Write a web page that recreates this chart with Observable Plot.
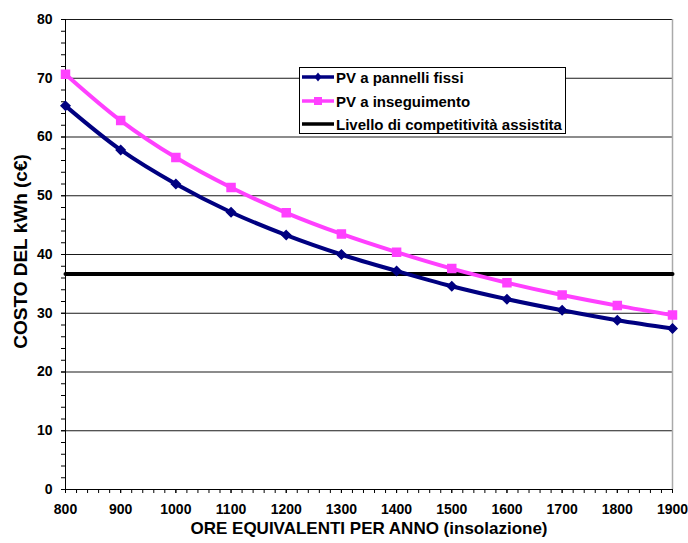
<!DOCTYPE html>
<html>
<head>
<meta charset="utf-8">
<script src="https://cdn.jsdelivr.net/npm/d3@7"></script>
<script src="https://cdn.jsdelivr.net/npm/@observablehq/plot@0.6"></script>
<style>
  html, body { margin: 0; padding: 0; background: #fff; }
  #wrap { position: relative; width: 688px; height: 543px; font-family: "Liberation Sans", Arial, sans-serif; }
  #legend { position: absolute; left: 299px; top: 67px; width: 267px; height: 67px; background: #fff; border: 1px solid #000; box-sizing: border-box; }
  .item { position: absolute; left: 2px; height: 18px; display: flex; align-items: center; font-weight: bold; font-size: 15px; color: #000; white-space: nowrap; }
  .item svg { margin-right: 2px; }
</style>
</head>
<body>
<div id="wrap"></div>
<script>
const hours = [800, 900, 1000, 1100, 1200, 1300, 1400, 1500, 1600, 1700, 1800, 1900];
const fixedPV = [65.3, 57.8, 52.0, 47.2, 43.3, 40.0, 37.2, 34.6, 32.4, 30.5, 28.8, 27.4];
const trackingPV = [70.7, 62.8, 56.5, 51.4, 47.1, 43.5, 40.4, 37.6, 35.2, 33.1, 31.3, 29.7];
const competitiveness = [36.7, 36.7, 36.7, 36.7, 36.7, 36.7, 36.7, 36.7, 36.7, 36.7, 36.7, 36.7];
const seriesNames = ["PV a pannelli fissi", "PV a inseguimento", "Livello di competitività assistita"];
const seriesColors = ["#000080", "#ff40ff", "#000000"];
const xTicks = [800, 900, 1000, 1100, 1200, 1300, 1400, 1500, 1600, 1700, 1800, 1900];
const yTicks = [0, 10, 20, 30, 40, 50, 60, 70, 80];
const xTitle = "ORE EQUIVALENTI PER ANNO (insolazione)";
const yTitle = "COSTO DEL kWh (c€)";

const fixedData = hours.map((h, i) => ({x: h, y: fixedPV[i]}));
const trackData = hours.map((h, i) => ({x: h, y: trackingPV[i]}));
const levelData = hours.map((h, i) => ({x: h, y: competitiveness[i]}));
const xMinor = d3.range(800, 1901, 20);
const yMinor = d3.range(0, 81, 2);

const chart = Plot.plot({
  width: 688,
  height: 543,
  marginLeft: 65,
  marginRight: 16,
  marginTop: 19,
  marginBottom: 54,
  style: {fontFamily: "Liberation Sans, Arial, sans-serif", fontWeight: "bold", fontSize: "14px", color: "#000", background: "#fff"},
  x: {domain: [800, 1900]},
  y: {domain: [0, 80]},
  marks: [
    Plot.ruleY(yTicks.filter(d => d > 0), {stroke: "#000", strokeWidth: 1, strokeOpacity: 0.9}),
    Plot.ruleX([1900], {stroke: "#aaa", strokeWidth: 1.5}),
    Plot.axisY(yMinor, {tickSize: 4, text: null, stroke: "#000", label: null}),
    Plot.axisY(yTicks, {tickSize: 4, tickPadding: 9, stroke: "#000", label: null, fontSize: 14, fontWeight: "bold", tickFormat: d => String(d)}),
    Plot.axisX(xMinor, {tickSize: 4, text: null, stroke: "#000", label: null}),
    Plot.axisX(xTicks, {tickSize: 4, tickPadding: 11, stroke: "#000", label: null, fontSize: 14, fontWeight: "bold", tickFormat: d => String(d)}),
    Plot.ruleX([800], {stroke: "#000", strokeWidth: 1}),
    Plot.ruleY([0], {stroke: "#000", strokeWidth: 1}),
    Plot.line(levelData, {x: "x", y: "y", stroke: seriesColors[2], strokeWidth: 4}),
    Plot.line(fixedData, {x: "x", y: "y", stroke: seriesColors[0], strokeWidth: 4, curve: "catmull-rom"}),
    Plot.dot(fixedData, {x: "x", y: "y", symbol: "diamond2", r: 4, fill: seriesColors[0], stroke: seriesColors[0]}),
    Plot.line(trackData, {x: "x", y: "y", stroke: seriesColors[1], strokeWidth: 4, curve: "catmull-rom"}),
    Plot.dot(trackData, {x: "x", y: "y", symbol: "square", r: 4.5, fill: seriesColors[1], stroke: seriesColors[1]}),
    Plot.text([yTitle], {frameAnchor: "left", textAnchor: "middle", rotate: -90, dx: -45, dy: -3, fontSize: 19, fontWeight: "bold", fill: "#000"}),
    Plot.text([xTitle], {frameAnchor: "bottom", dy: 44, fontSize: 17, fontWeight: "bold", fill: "#000"})
  ]
});

const wrap = document.getElementById("wrap");
wrap.appendChild(chart);

const legend = document.createElement("div");
legend.id = "legend";
const rowsTop = [0, 24, 47];
seriesNames.forEach((name, i) => {
  const item = document.createElement("div");
  item.className = "item";
  item.style.top = (rowsTop[i]) + "px";
  let marker = "";
  if (i === 0) marker = `<path d="M16,4.5 L19.5,9 L16,13.5 L12.5,9 Z" fill="${seriesColors[0]}"/>`;
  if (i === 1) marker = `<rect x="12" y="5" width="8" height="8" fill="${seriesColors[1]}"/>`;
  item.innerHTML = `<svg width="32" height="18"><line x1="0" y1="9" x2="32" y2="9" stroke="${seriesColors[i]}" stroke-width="3.5"/>${marker}</svg><span>${name}</span>`;
  legend.appendChild(item);
});
wrap.appendChild(legend);
</script>
</body>
</html>
